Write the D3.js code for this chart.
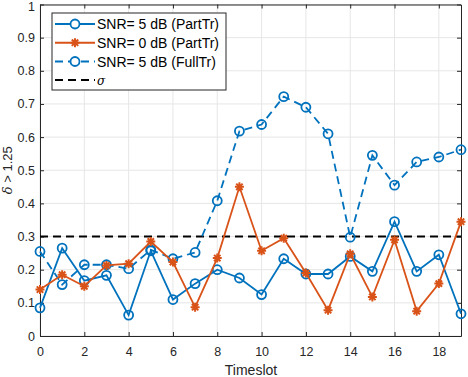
<!DOCTYPE html>
<html lang="en">
<head>
    <meta charset="UTF-8">
    <title>Timeslot chart</title>
    <script src="https://d3js.org/d3.v7.min.js"></script>
    <style>
        body { margin: 0; background: #fff; font-family: "Liberation Sans", Arial, sans-serif; }
        svg { display: block; }
        .tick text { font-size: 12.5px; fill: #262626; }
    </style>
</head>
<body>
    <svg id="chart" width="468" height="377"></svg>

    <script>
        // data
        const timeslots = d3.range(0, 20);
        const partTr5 = [0.085, 0.265, 0.167, 0.183, 0.063, 0.257, 0.110, 0.158, 0.200, 0.175,
                         0.125, 0.233, 0.187, 0.187, 0.240, 0.195, 0.345, 0.195, 0.245, 0.067];
        const partTr0 = [0.140, 0.185, 0.150, 0.213, 0.218, 0.285, 0.223, 0.087, 0.235, 0.450,
                         0.257, 0.295, 0.190, 0.078, 0.248, 0.118, 0.290, 0.075, 0.158, 0.345];
        const fullTr5 = [0.255, 0.155, 0.215, 0.215, 0.203, 0.260, 0.233, 0.252, 0.408, 0.618,
                         0.638, 0.722, 0.690, 0.610, 0.298, 0.545, 0.455, 0.525, 0.540, 0.562];
        const sigma = 0.3;
        const xTicks = d3.range(0, 19, 2);
        const yTicks = d3.range(0, 11).map(d => d / 10);
        const legendLabels = ["SNR= 5 dB (PartTr)", "SNR= 0 dB (PartTr)", "SNR= 5 dB (FullTr)", "σ"];

        const blue = "#0072BD", orange = "#D95319";
        const svg = d3.select("#chart");
        const mLeft = 40, mRight = 461, mTop = 4.5, mBottom = 336;

        const x = d3.scaleLinear().domain([0, 19]).range([mLeft, mRight]);
        const y = d3.scaleLinear().domain([0, 1]).range([mBottom, mTop]);

        // grid
        const grid = svg.append("g").attr("stroke", "#e6e6e6").attr("stroke-width", 1);
        grid.selectAll(".gx").data(xTicks).join("line")
            .attr("x1", d => x(d)).attr("x2", d => x(d)).attr("y1", mTop).attr("y2", mBottom);
        grid.selectAll(".gy").data(yTicks).join("line")
            .attr("x1", mLeft).attr("x2", mRight).attr("y1", d => y(d)).attr("y2", d => y(d));

        // axes
        const axisColor = "#262626";
        function styleAxis(g) {
            g.select(".domain").attr("stroke", axisColor);
            g.selectAll(".tick line").attr("stroke", axisColor);
        }
        svg.append("g").attr("transform", `translate(0,${mBottom})`)
            .call(d3.axisBottom(x).tickValues(xTicks).tickSizeInner(-4).tickSizeOuter(0).tickPadding(11))
            .call(styleAxis);
        svg.append("g").attr("transform", `translate(0,${mTop})`)
            .call(d3.axisTop(x).tickValues(xTicks).tickSizeInner(-4).tickSizeOuter(0).tickFormat(""))
            .call(styleAxis);
        svg.append("g").attr("transform", `translate(${mLeft},0)`)
            .call(d3.axisLeft(y).tickValues(yTicks).tickSizeInner(-4).tickSizeOuter(0).tickPadding(5)
                .tickFormat(d => d === 0 || d === 1 ? d3.format("d")(d) : d3.format(".1f")(d)))
            .call(styleAxis)
            .call(g => g.selectAll(".tick text").filter(d => d === 1).attr("dy", "0.5em"));
        svg.append("g").attr("transform", `translate(${mRight},0)`)
            .call(d3.axisRight(y).tickValues(yTicks).tickSizeInner(-4).tickSizeOuter(0).tickFormat(""))
            .call(styleAxis);
        svg.selectAll(".tick text").attr("font-family", "Liberation Sans, Arial, sans-serif");

        // axis labels
        svg.append("text").attr("x", 251).attr("y", 375)
            .attr("text-anchor", "middle").attr("font-size", 14).attr("fill", axisColor)
            .text("Timeslot");
        const yl = svg.append("text").attr("transform", `translate(12,${(mTop + mBottom) / 2}) rotate(-90)`)
            .attr("text-anchor", "middle").attr("font-size", 13).attr("fill", axisColor);
        yl.append("tspan").attr("font-style", "italic").attr("font-family", "DejaVu Serif, serif").text("δ");
        yl.append("tspan").text(" > 1.25");

        const line = d3.line().x((d, i) => x(timeslots[i])).y(d => y(d));
        const plot = svg.append("g");

        // sigma threshold
        plot.append("line").attr("x1", mLeft).attr("x2", mRight)
            .attr("y1", y(sigma)).attr("y2", y(sigma))
            .attr("stroke", "#000").attr("stroke-width", 2).attr("stroke-dasharray", "8,5");

        const star = "M-4.5,0H4.5M0,-4.5V4.5M-3.2,-3.2L3.2,3.2M-3.2,3.2L3.2,-3.2";
        function circles(data, color) {
            plot.append("g").selectAll("circle").data(data).join("circle")
                .attr("cx", (d, i) => x(timeslots[i])).attr("cy", d => y(d)).attr("r", 4.5)
                .attr("fill", "none").attr("stroke", color).attr("stroke-width", 1.8);
        }
        function stars(data, color) {
            plot.append("g").selectAll("path").data(data).join("path")
                .attr("transform", (d, i) => `translate(${x(timeslots[i])},${y(d)})`)
                .attr("d", star).attr("stroke", color).attr("stroke-width", 2).attr("fill", "none");
        }

        plot.append("path").datum(fullTr5).attr("d", line).attr("fill", "none")
            .attr("stroke", blue).attr("stroke-width", 1.8).attr("stroke-dasharray", "8,5");
        circles(fullTr5, blue);

        plot.append("path").datum(partTr5).attr("d", line).attr("fill", "none")
            .attr("stroke", blue).attr("stroke-width", 1.8);
        circles(partTr5, blue);

        plot.append("path").datum(partTr0).attr("d", line).attr("fill", "none")
            .attr("stroke", orange).attr("stroke-width", 1.8);
        stars(partTr0, orange);

        // legend
        const lg = svg.append("g");
        lg.append("rect").attr("x", 52).attr("y", 13).attr("width", 174).attr("height", 77)
            .attr("fill", "#fff").attr("stroke", axisColor).attr("stroke-width", 1);
        const rows = [24, 42.7, 61.5, 80];
        const styles = [
            { color: blue, dash: null, marker: "o" },
            { color: orange, dash: null, marker: "*" },
            { color: blue, dash: "8,5", marker: "o" },
            { color: "#000", dash: "8,5", marker: null }
        ];
        legendLabels.forEach((lab, i) => {
            const s = styles[i], yy = rows[i];
            lg.append("line").attr("x1", 55).attr("x2", 95).attr("y1", yy).attr("y2", yy)
                .attr("stroke", s.color).attr("stroke-width", 2)
                .attr("stroke-dasharray", s.dash);
            if (s.marker === "o") {
                lg.append("circle").attr("cx", 75).attr("cy", yy).attr("r", 4.5)
                    .attr("fill", "#fff").attr("stroke", s.color).attr("stroke-width", 1.8);
            } else if (s.marker === "*") {
                lg.append("path").attr("transform", `translate(75,${yy})`)
                    .attr("d", star).attr("stroke", s.color).attr("stroke-width", 2);
            }
            const t = lg.append("text").attr("x", 97).attr("y", yy + 5)
                .attr("font-size", 14).attr("fill", "#000");
            if (lab === "σ") t.attr("font-style", "italic").attr("font-family", "DejaVu Serif, serif").attr("font-size", 12);
            t.text(lab);
        });
    </script>
</body>
</html>
